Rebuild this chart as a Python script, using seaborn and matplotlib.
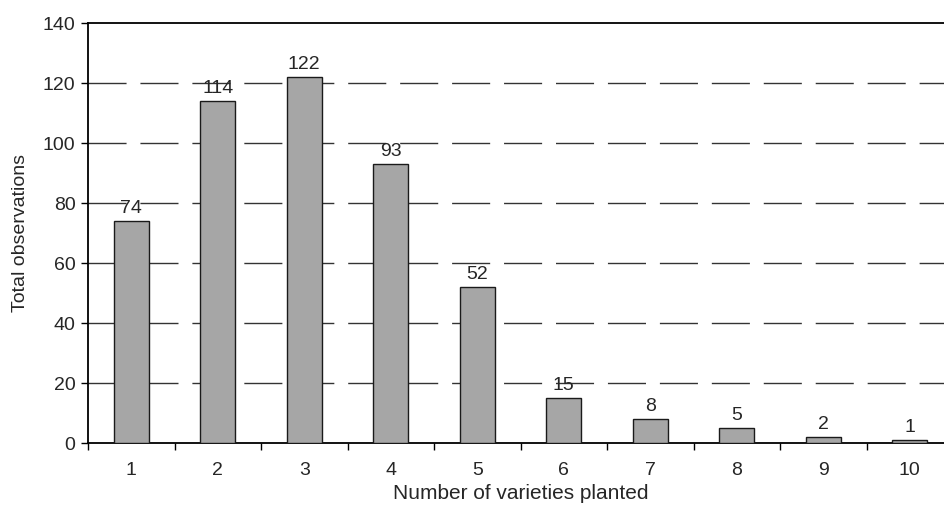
import matplotlib
matplotlib.use("Agg")
import matplotlib.pyplot as plt
import seaborn as sns
import pandas as pd

varieties = ["1", "2", "3", "4", "5", "6", "7", "8", "9", "10"]
observations = [74, 114, 122, 93, 52, 15, 8, 5, 2, 1]
y_ticks = [0, 20, 40, 60, 80, 100, 120, 140]

sns.set_theme(style="white")
plt.rcParams["font.family"] = ["Liberation Sans", "DejaVu Sans"]
plt.rcParams["lines.scale_dashes"] = False

df = pd.DataFrame({"varieties": varieties, "observations": observations})

fig = plt.figure(figsize=(9.45, 5.05), dpi=100)
ax = fig.add_axes([88 / 945, 62 / 505, 865 / 945, 420 / 505])

sns.barplot(data=df, x="varieties", y="observations", order=varieties,
            color="#a6a6a6", width=0.4, edgecolor="#1a1a1a", linewidth=1.0,
            saturation=1, ax=ax, zorder=3)

ax.set_ylim(0, 140)
ax.set_xlim(-0.5, len(varieties) - 0.5)
ax.set_yticks(y_ticks)
ax.set_yticklabels([str(v) for v in y_ticks], fontsize=14)

# category ticks sit on the boundaries, labels centred under the bars
ax.set_xticks([i - 0.5 for i in range(len(varieties) + 1)])
ax.set_xticklabels([])
ax.set_xticks(range(len(varieties)), minor=True)
ax.set_xticklabels(varieties, minor=True, fontsize=14)
ax.tick_params(axis="x", which="major", direction="out", length=5, width=1,
               color="black", bottom=True)
ax.tick_params(axis="x", which="minor", length=0, pad=14)
ax.tick_params(axis="y", direction="out", length=5, width=1, color="black",
               left=True, pad=4)

# dashed horizontal gridlines
for v in y_ticks[1:-1]:
    ax.axhline(v, color="#333333", linewidth=1.0,
               linestyle=(0, (27.4, 10.0)), zorder=1)

for s in ["left", "bottom", "top"]:
    ax.spines[s].set_visible(True)
    ax.spines[s].set_color("black")
    ax.spines[s].set_linewidth(1.3)
ax.spines["right"].set_visible(False)

for i, v in enumerate(observations):
    ax.annotate(str(v), (i, v), xytext=(0, 6), textcoords="offset points",
                ha="center", va="baseline", fontsize=14, zorder=4)

ax.set_xlabel("Number of varieties planted", fontsize=15, labelpad=3)
ax.set_ylabel("Total observations", fontsize=14, labelpad=10)

fig.savefig("out.png", dpi=100)
